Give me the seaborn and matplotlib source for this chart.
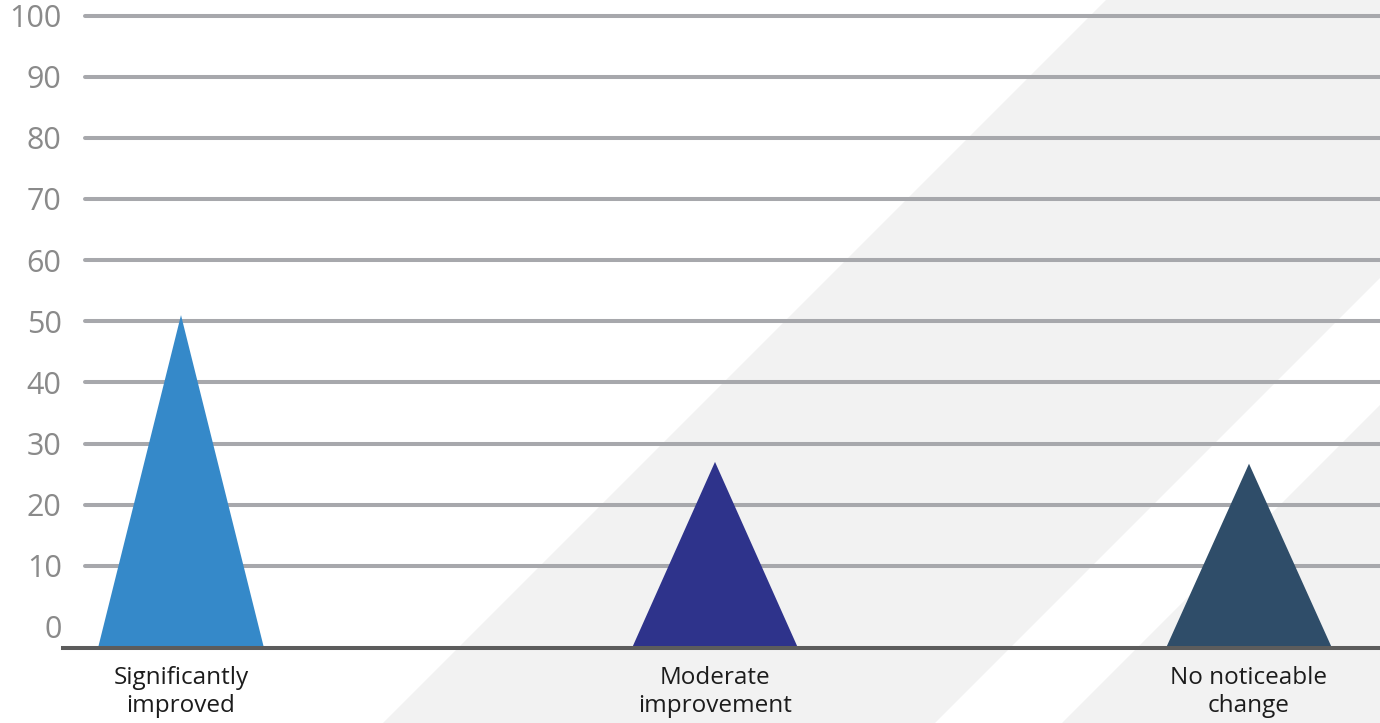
import matplotlib
matplotlib.use("Agg")
import matplotlib.pyplot as plt
from matplotlib.patches import Polygon
import numpy as np
import seaborn as sns
import pandas as pd

# Survey outcome shares (percent)
categories = ["Significantly\nimproved", "Moderate\nimprovement", "No noticeable\nchange"]
values = [51, 27, 26.7]
colors = ["#3589c9", "#2e338b", "#2f4d69"]
y_ticks = [0, 10, 20, 30, 40, 50, 60, 70, 80, 90, 100]

sns.set_theme(style="white")
plt.rcParams["font.family"] = ["Open Sans", "DejaVu Sans"]

W, H = 1380, 723
fig = plt.figure(figsize=(W / 100, H / 100), dpi=100)
fig.patch.set_facecolor("white")


def band(s0, s1):
    """Diagonal stripe where s0 < x + y < s1 (pixels, y measured downward)."""
    xs = np.linspace(0, W, 2000)
    top, bot = [], []
    for x in xs:
        ylo, yhi = max(0, s0 - x), min(H, s1 - x)
        if ylo < yhi:
            top.append((x, ylo))
    for x in xs[::-1]:
        ylo, yhi = max(0, s0 - x), min(H, s1 - x)
        if ylo < yhi:
            bot.append((x, yhi))
    poly = [(x / W, 1 - y / H) for x, y in top + bot]
    return Polygon(poly, closed=True, transform=fig.transFigure,
                   facecolor="#f2f2f2", edgecolor="none", zorder=-10)


fig.patches.append(band(1106, 1658))
fig.patches.append(band(1785, 3000))

# Axes placement
ax_left_px, ax_right_px = 63, 1380
base_px = 648
px_per_unit = (627 - 15.5) / 100.0
y_bottom = -(base_px - 627) / px_per_unit
y_top = 101.0
top_px = 627 - y_top * px_per_unit
ax = fig.add_axes([ax_left_px / W, (H - base_px) / H,
                   (ax_right_px - ax_left_px) / W, (base_px - top_px) / H])
ax.set_facecolor("none")
ax.set_zorder(1)

df = pd.DataFrame({"category": categories, "value": values})
sns.barplot(data=df, x="category", y="value", ax=ax,
            facecolor="none", linewidth=0, errorbar=None)

spacing = 534.0
x0_px = 181
ax.set_xlim((ax_left_px - x0_px) / spacing, (ax_right_px - x0_px) / spacing)
ax.set_ylim(y_bottom, y_top)

# Horizontal rules
gx0 = (85 - ax_left_px) / (ax_right_px - ax_left_px)
for t in y_ticks[1:]:
    ax.axhline(t, xmin=gx0, xmax=1, color="#a7a8ac", lw=2.9, zorder=1)

# Triangular spikes
half = 83 / spacing
for i, (v, c) in enumerate(zip(values, colors)):
    ax.fill([i - half, i, i + half], [y_bottom, v, y_bottom],
            color=c, lw=0, zorder=3)

for s in ["top", "right", "left"]:
    ax.spines[s].set_visible(False)
ax.spines["bottom"].set_color("#5c5c5c")
ax.spines["bottom"].set_linewidth(2.9)
ax.spines["bottom"].set_zorder(4)

ax.set_yticks(y_ticks)
ax.set_yticklabels([str(t) for t in y_ticks])
ax.tick_params(axis="y", length=0, pad=1, labelsize=22, labelcolor="#8a8a8a")
ax.tick_params(axis="x", length=0, pad=13, labelsize=17.5, labelcolor="#1c1c1c")
for lbl in ax.get_xticklabels():
    lbl.set_linespacing(1.22)
ax.set_xlabel("")
ax.set_ylabel("")

fig.savefig("out.png", dpi=100)
